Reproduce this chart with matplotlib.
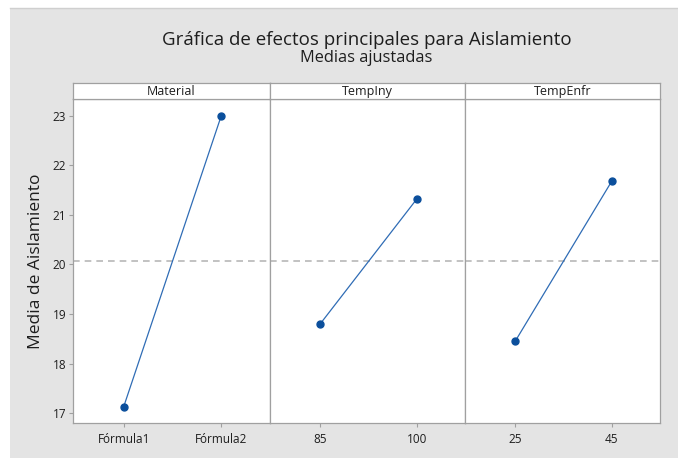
import matplotlib
matplotlib.use('Agg')
import matplotlib.pyplot as plt
from matplotlib.patches import Rectangle

plt.rcParams['font.family'] = ['Open Sans', 'DejaVu Sans']

# Data
factors = ['Material', 'TempIny', 'TempEnfr']
levels = [['Fórmula1', 'Fórmula2'], ['85', '100'], ['25', '45']]
means = [[17.13, 23.0], [18.80, 21.32], [18.45, 21.68]]
grand_mean = 20.065
yticks = [17, 18, 19, 20, 21, 22, 23]

W, H = 678, 458
fig = plt.figure(figsize=(W / 100, H / 100), dpi=100)
fig.patch.set_facecolor('white')

# grey background panel
bg = Rectangle((10 / W, 0), 1 - 10 / W, (H - 8) / H, transform=fig.transFigure,
               facecolor='#e4e4e4', edgecolor='none', zorder=-10)
fig.patches.append(bg)
fig.add_artist(plt.Line2D([10 / W, 1], [(H - 8) / H] * 2, transform=fig.transFigure,
                          color='#cfcfcf', lw=1))

left_px = 73
widths_px = [197, 195, 195]
bottom_px, top_px, strip_top_px = 423, 99, 83
txt = '#1e1e1e'

x0 = left_px
for i, f in enumerate(factors):
    w = widths_px[i]
    ax = fig.add_axes([x0 / W, (H - bottom_px) / H, w / W, (bottom_px - top_px) / H])
    ax.set_facecolor('white')
    ax.plot([0, 1], means[i], color='#2f6cb5', lw=0.9, zorder=2)
    ax.plot([0, 1], means[i], 'o', color='#0b4f9c', ms=5, zorder=3)
    ax.axhline(grand_mean, color='#b8b8b8', lw=1.2, ls=(0, (4, 3)), zorder=1)
    ax.set_xlim(-0.52, 1.5)
    ax.set_ylim(16.8, 23.34)
    ax.set_xticks([0, 1])
    ax.set_xticklabels(levels[i], fontsize=8.5, color=txt)
    ax.tick_params(axis='x', length=3, color='#a0a0a0', pad=4)
    if i == 0:
        ax.set_yticks(yticks)
        ax.set_yticklabels([str(t) for t in yticks], fontsize=8.5, color=txt)
        ax.tick_params(axis='y', length=3, color='#a0a0a0', pad=2)
        ax.set_ylabel('Media de Aislamiento', fontsize=12.5, color=txt, labelpad=6)
    else:
        ax.set_yticks([])
    for s in ax.spines.values():
        s.set_color('#a0a0a0')
        s.set_linewidth(0.9)

    # strip header
    sax = fig.add_axes([x0 / W, (H - top_px) / H, w / W, (top_px - strip_top_px) / H])
    sax.set_facecolor('white')
    sax.set_xticks([])
    sax.set_yticks([])
    for s in sax.spines.values():
        s.set_color('#a0a0a0')
        s.set_linewidth(0.9)
    sax.text(0.5, 0.45, f, ha='center', va='center', fontsize=9, color=txt,
             transform=sax.transAxes)
    x0 += w

cx = (left_px + sum(widths_px) / 2) / W
fig.text(cx, (H - 40) / H, 'Gráfica de efectos principales para Aislamiento',
         ha='center', va='center', fontsize=13.5, color=txt)
fig.text(cx, (H - 58) / H, 'Medias ajustadas', ha='center', va='center',
         fontsize=11.8, color=txt)

fig.savefig('out.png', dpi=100)
